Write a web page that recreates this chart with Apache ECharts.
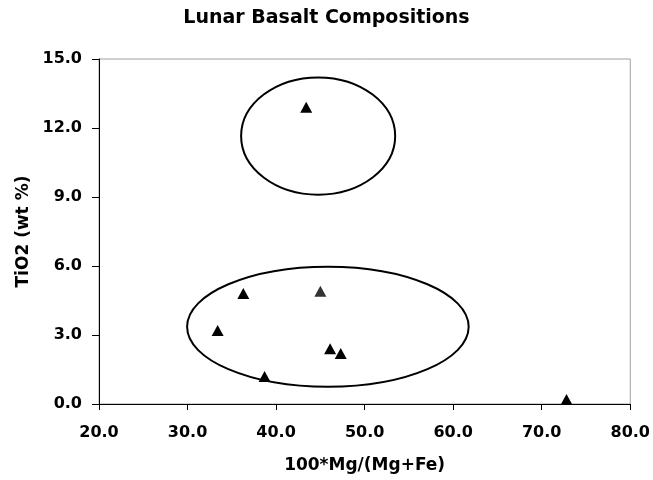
<!DOCTYPE html>
<html>
<head>
<meta charset="utf-8">
<script src="https://cdn.jsdelivr.net/npm/echarts@6/dist/echarts.min.js"></script>
<style>
html,body{margin:0;padding:0;background:#fff;}
#chart{width:653px;height:480px;}
</style>
</head>
<body>
<div id="chart"></div>
<script>
// Data
const titleText = 'Lunar Basalt Compositions';
const xName = '100*Mg/(Mg+Fe)';
const yName = 'TiO2 (wt %)';
const mgNumber = [43.4, 36.3, 45.0, 33.4, 46.1, 47.3, 38.7, 72.8];
const tio2     = [12.9, 4.8, 4.9, 3.2, 2.4, 2.2, 1.2, 0.2];
const pointColors = ['#000', '#000', '#333', '#000', '#000', '#000', '#000', '#000'];
// Group ellipses: centre x, centre y, radius x, radius y (data units)
const ellipseCx = [44.75, 45.85];
const ellipseCy = [11.65, 3.36];
const ellipseRx = [8.7, 15.9];
const ellipseRy = [2.55, 2.61];
const xTicks = {min: 20, max: 80, interval: 10};
const yTicks = {min: 0, max: 15, interval: 3};

const FONT = '"DejaVu Sans", sans-serif';
const points = mgNumber.map((x, i) => ({value: [x, tio2[i]], itemStyle: {color: pointColors[i]}}));
const ellipses = ellipseCx.map((cx, i) => [cx, ellipseCy[i], ellipseRx[i], ellipseRy[i]]);

const chart = echarts.init(document.getElementById('chart'), null, {renderer: 'canvas'});
chart.setOption({
  animation: false,
  backgroundColor: '#fff',
  title: {
    text: titleText, left: 'center', top: 9, padding: [0, 0, 0, 52],
    textStyle: {fontFamily: FONT, fontWeight: 'bold', fontSize: 19, color: '#000'}
  },
  grid: {
    left: 99, right: 20, top: 59, bottom: 76,
    show: true, borderColor: '#a0a0a0', borderWidth: 1, backgroundColor: 'transparent'
  },
  xAxis: {
    type: 'value', min: xTicks.min, max: xTicks.max, interval: xTicks.interval,
    name: xName, nameLocation: 'middle', nameGap: 53,
    nameTextStyle: {fontFamily: FONT, fontWeight: 'bold', fontSize: 17, color: '#000'},
    axisLine: {show: true, onZero: false, lineStyle: {color: '#000', width: 1}},
    axisTick: {show: true, inside: false, length: 6, lineStyle: {color: '#000'}},
    axisLabel: {margin: 21, fontFamily: FONT, fontWeight: 'bold', fontSize: 16, color: '#000',
      formatter: v => v.toFixed(1)},
    splitLine: {show: false}
  },
  yAxis: {
    type: 'value', min: yTicks.min, max: yTicks.max, interval: yTicks.interval,
    name: yName, nameLocation: 'middle', nameGap: 67, nameRotate: 90,
    nameTextStyle: {fontFamily: FONT, fontWeight: 'bold', fontSize: 17, color: '#000'},
    axisLine: {show: true, onZero: false, lineStyle: {color: '#000', width: 1}},
    axisTick: {show: true, inside: false, length: 7, lineStyle: {color: '#000'}},
    axisLabel: {margin: 17, fontFamily: FONT, fontWeight: 'bold', fontSize: 16, color: '#000',
      formatter: v => v.toFixed(1)},
    splitLine: {show: false}
  },
  series: [
    {
      type: 'custom',
      clip: false,
      silent: true,
      data: ellipses,
      encode: {x: 0, y: 1},
      renderItem: function (params, api) {
        const c = api.coord([api.value(0), api.value(1)]);
        const s = api.size([api.value(2), api.value(3)]);
        return {
          type: 'ellipse',
          shape: {cx: c[0], cy: c[1], rx: s[0], ry: s[1]},
          style: {fill: 'none', stroke: '#000', lineWidth: 2}
        };
      },
      z: 2
    },
    {
      type: 'scatter',
      data: points,
      symbol: 'triangle',
      symbolSize: [12, 11],
      itemStyle: {opacity: 1},
      z: 3
    }
  ]
});
</script>
</body>
</html>
